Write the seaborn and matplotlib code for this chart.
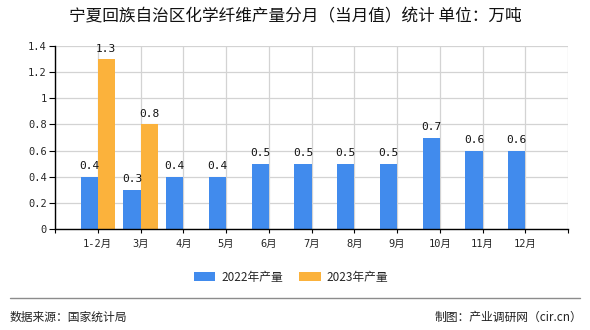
import matplotlib
matplotlib.use("Agg")
import matplotlib.pyplot as plt
import seaborn as sns
import pandas as pd
from matplotlib.lines import Line2D
from matplotlib.patches import Patch

# ---- data ----
months = ["1-2月", "3月", "4月", "5月", "6月", "7月", "8月", "9月", "10月", "11月", "12月"]
v2022 = [0.4, 0.3, 0.4, 0.4, 0.5, 0.5, 0.5, 0.5, 0.7, 0.6, 0.6]
months_2023 = ["1-2月", "3月"]
v2023 = [1.3, 0.8]
series = ["2022年产量", "2023年产量"]
y_ticks = [0, 0.2, 0.4, 0.6, 0.8, 1, 1.2, 1.4]
y_tick_labels = ["0", "0.2", "0.4", "0.6", "0.8", "1", "1.2", "1.4"]
title = "宁夏回族自治区化学纤维产量分月（当月值）统计 单位：万吨"
source = "数据来源：国家统计局"
credit = "制图：产业调研网（cir.cn）"

colors = ["#418BED", "#FBB23C"]

df = pd.concat([
    pd.DataFrame({"月份": months, "产量": v2022, "系列": series[0]}),
    pd.DataFrame({"月份": months_2023, "产量": v2023, "系列": series[1]}),
], ignore_index=True)

sns.set_theme(style="white")
plt.rcParams["font.family"] = ["Noto Sans CJK SC", "DejaVu Sans"]

fig = plt.figure(figsize=(5.9, 3.3), dpi=100)
ax = fig.add_axes([55 / 590, 1 - 229 / 330, (568 - 55) / 590, (229 - 46) / 330])

sns.barplot(data=df, x="月份", y="产量", hue="系列", order=months, hue_order=series,
            palette=colors, width=0.8, saturation=1, ax=ax, legend=False, errorbar=None,
            linewidth=0, edgecolor="none")

mono = ["DejaVu Sans Mono", "Noto Sans CJK SC"]
for cont in ax.containers:
    ax.bar_label(cont, fmt="%.1f", padding=4, fontsize=8, family=mono, color="#111111")

ax.set_xlim(-1, 11)
ax.set_ylim(0, 1.4)
ax.set_xticks(range(-1, 12))
ax.set_xticklabels([""] + months + [""], family=mono, fontsize=7.5)
ax.set_yticks(y_ticks)
ax.set_yticklabels(y_tick_labels, family=mono, fontsize=7.5)
ax.set_xlabel("")
ax.set_ylabel("")

ax.grid(True, axis="both", color="#D3D3D3", linewidth=0.9)
ax.set_axisbelow(True)
for s in ["top", "right"]:
    ax.spines[s].set_visible(False)
for s in ["left", "bottom"]:
    ax.spines[s].set_color("#000000")
    ax.spines[s].set_linewidth(1.0)
ax.tick_params(axis="y", left=True, length=4, width=0.8, color="#000000", pad=2)
ax.tick_params(axis="x", bottom=True, length=3, width=0.8, color="#000000", pad=4)

fig.text(0.5, 1 - 17 / 330, title, ha="center", va="center", fontsize=12, color="#111111")

handles = [Patch(facecolor=c, edgecolor="none") for c in colors]
fig.legend(handles, series, loc="center", bbox_to_anchor=(291 / 590, 1 - 277 / 330),
           ncol=2, frameon=False, fontsize=8.5, handlelength=1.8, handleheight=0.7,
           handletextpad=0.5, columnspacing=1.4)

fig.add_artist(Line2D([10 / 590, 580 / 590], [1 - 298 / 330] * 2, color="#8C8C8C",
                      linewidth=1.0, transform=fig.transFigure))
fig.text(10 / 590, 1 - 317 / 330, source, ha="left", va="center", fontsize=8.5, color="#222222")
fig.text(582 / 590, 1 - 317 / 330, credit, ha="right", va="center", fontsize=8.5, color="#222222")

fig.savefig("out.png", dpi=100)
